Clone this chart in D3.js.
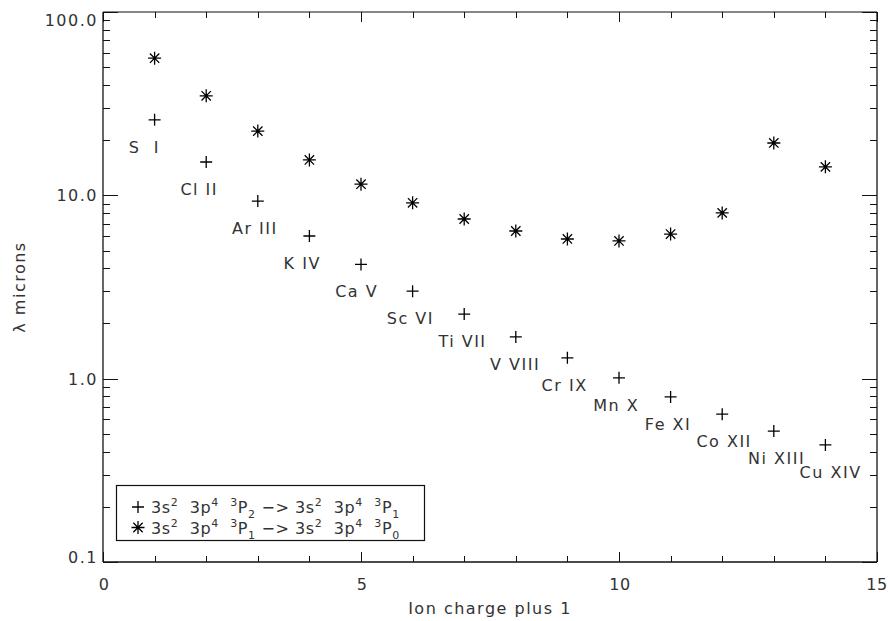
<!DOCTYPE html>
<meta charset="UTF-8">
<style>
  body { margin: 0; background: #fff; }
  text { font-family: "DejaVu Sans", "Liberation Sans", sans-serif; fill: #333; letter-spacing: 1.5px; }
  .lbl { white-space: pre; }
  .leg { white-space: pre; letter-spacing: 0.6px; }
</style>
<body>
<script src="https://cdn.jsdelivr.net/npm/d3@7"></script>
<script>

// ion charge + 1
var charge = [1, 2, 3, 4, 5, 6, 7, 8, 9, 10, 11, 12, 13, 14];
// ion names
var ions = ["S  I", "Cl II", "Ar III", "K IV", "Ca V", "Sc VI", "Ti VII",
            "V VIII", "Cr IX", "Mn X", "Fe XI", "Co XII", "Ni XIII", "Cu XIV"];
// 3P2 -> 3P1 wavelengths (microns)
var lam21 = [25.8, 15.2, 9.3, 6.0, 4.2, 3.0, 2.25, 1.69, 1.30, 1.01, 0.795, 0.64, 0.518, 0.435];
// 3P1 -> 3P0 wavelengths (microns)
var lam10 = [56.0, 34.9, 22.4, 15.6, 11.5, 9.1, 7.43, 6.39, 5.78, 5.64, 6.15, 8.02, 19.3, 14.3];

var yTicks = [100, 10, 1, 0.1];
var xTicks = [0, 5, 10, 15];

var W = 888, H = 621;
var margin = {top: 12, right: 11, bottom: 59, left: 103};
var fs = 16;

var svg = d3.select("body").append("svg")
    .attr("width", W)
    .attr("height", H);

var x = d3.scaleLinear().domain([0, 15]).range([margin.left, W - margin.right]);
var y = d3.scaleLog().domain([0.1, 100]).range([H - margin.bottom, margin.top]);

var x0 = x.range()[0], x1 = x.range()[1],
    y0 = y.range()[0], y1 = y.range()[1];

// minor ticks on y
var yMinor = [];
[0.1, 1, 10].forEach(function(d) {
  for (var k = 2; k <= 9; k++) yMinor.push(d * k);
});
var xMinor = d3.range(0, 16);

var g = svg.append("g");

// frame
g.append("line").attr("x1", x0).attr("x2", x0).attr("y1", y0).attr("y2", y1)
  .attr("stroke", "#666").attr("stroke-width", 2);
g.append("line").attr("x1", x1).attr("x2", x1).attr("y1", y0).attr("y2", y1)
  .attr("stroke", "#666").attr("stroke-width", 2);
g.append("line").attr("x1", x0).attr("x2", x1).attr("y1", y0).attr("y2", y0)
  .attr("stroke", "#111").attr("stroke-width", 1.5);
g.append("line").attr("x1", x0).attr("x2", x1).attr("y1", y1).attr("y2", y1)
  .attr("stroke", "#111").attr("stroke-width", 1.2);

// y ticks, both sides
function yTick(v, len) {
  var yy = Math.round(y(v)) + 0.5;
  g.append("line").attr("x1", x0).attr("x2", x0 + len).attr("y1", yy).attr("y2", yy)
    .attr("stroke", "#111").attr("stroke-width", 1);
  g.append("line").attr("x1", x1).attr("x2", x1 - len).attr("y1", yy).attr("y2", yy)
    .attr("stroke", "#111").attr("stroke-width", 1);
}
yMinor.forEach(function(v) { yTick(v, 7); });
yTicks.forEach(function(v) { yTick(v, 15); });

// x ticks, both sides
function xTick(v, len) {
  var xx = Math.round(x(v)) + 0.5;
  g.append("line").attr("x1", xx).attr("x2", xx).attr("y1", y0).attr("y2", y0 - len)
    .attr("stroke", "#111").attr("stroke-width", 1);
  g.append("line").attr("x1", xx).attr("x2", xx).attr("y1", y1).attr("y2", y1 + len)
    .attr("stroke", "#111").attr("stroke-width", 1);
}
xMinor.forEach(function(v) { if (xTicks.indexOf(v) < 0) xTick(v, 6); });
xTicks.forEach(function(v) { xTick(v, 10); });

// tick labels
g.selectAll(".ylab").data(yTicks).enter().append("text")
  .attr("class", "ylab")
  .attr("x", x0 - 5)
  .attr("y", function(d) {
    var yy = y(d) + 6;
    return Math.min(Math.max(yy, y1 + 14), y0 + 1);
  })
  .attr("text-anchor", "end")
  .attr("font-size", fs)
  .text(function(d) { return d3.format(".1f")(d); });

g.selectAll(".xlab").data(xTicks).enter().append("text")
  .attr("class", "xlab")
  .attr("x", function(d) { return Math.min(x(d) + 1, W - 11); })
  .attr("y", y0 + 28)
  .attr("text-anchor", "middle")
  .attr("font-size", fs)
  .style("letter-spacing", "0.5px")
  .text(function(d) { return d; });

// axis titles
svg.append("text")
  .attr("x", (x0 + x1) / 2)
  .attr("y", 614)
  .attr("text-anchor", "middle")
  .attr("font-size", fs)
  .text("Ion charge plus 1");

svg.append("text")
  .attr("transform", "translate(25," + ((y0 + y1) / 2) + ") rotate(-90)")
  .attr("text-anchor", "middle")
  .attr("font-size", fs)
  .text("λ microns");

// markers
function plus(sel, s) {
  sel.append("path")
    .attr("d", "M" + (-s) + ",0H" + s + "M0," + (-s) + "V" + s)
    .attr("stroke", "#000").attr("stroke-width", 1.3).attr("fill", "none");
}
function star(sel, s) {
  var d = s * 0.72;
  sel.append("path")
    .attr("d", "M" + (-s) + ",0H" + s + "M0," + (-s) + "V" + s +
               "M" + (-d) + "," + (-d) + "L" + d + "," + d +
               "M" + (-d) + "," + d + "L" + d + "," + (-d))
    .attr("stroke", "#000").attr("stroke-width", 1.3).attr("fill", "none");
}

var pts = charge.map(function(c, i) {
  return {c: c, name: ions[i], a: lam21[i], b: lam10[i]};
});

var p1 = g.selectAll(".p1").data(pts).enter().append("g")
  .attr("class", "p1")
  .attr("transform", function(d) { return "translate(" + x(d.c) + "," + y(d.a) + ")"; });
plus(p1, 6);

var p2 = g.selectAll(".p2").data(pts).enter().append("g")
  .attr("class", "p2")
  .attr("transform", function(d) { return "translate(" + x(d.c) + "," + y(d.b) + ")"; });
star(p2, 6.5);

// ion labels, left aligned half a unit to the left
g.selectAll(".lbl").data(pts).enter().append("text")
  .attr("class", "lbl")
  .attr("x", function(d) { return x(d.c - 0.5); })
  .attr("y", function(d) { return y(d.a) + 33; })
  .attr("font-size", fs)
  .text(function(d) { return d.name; });

// legend
var lg = svg.append("g");
lg.append("rect")
  .attr("x", 116.5).attr("y", 485.5).attr("width", 308).attr("height", 55)
  .attr("fill", "#fff").attr("stroke", "#111").attr("stroke-width", 1.2);

var legendRows = [
  {mark: "plus", parts: [["3s",0],["2",1],["  3p",0],["4",1],["  ",0],["3",1],["P",0],["2",-1],[" −> 3s",0],["2",1],["  3p",0],["4",1],["  ",0],["3",1],["P",0],["1",-1]]},
  {mark: "star", parts: [["3s",0],["2",1],["  3p",0],["4",1],["  ",0],["3",1],["P",0],["1",-1],[" −> 3s",0],["2",1],["  3p",0],["4",1],["  ",0],["3",1],["P",0],["0",-1]]}
];

legendRows.forEach(function(r, i) {
  var by = 513 + i * 20.5;
  var m = lg.append("g").attr("transform", "translate(138," + (by - 6) + ")");
  if (r.mark === "plus") plus(m, 6); else star(m, 6.5);
  var t = lg.append("text").attr("class", "leg")
    .attr("x", 151).attr("y", by).attr("font-size", fs);
  var prev = 0;
  r.parts.forEach(function(p) {
    var shift = p[1] === 1 ? -7 : (p[1] === -1 ? 5 : 0);
    t.append("tspan")
      .attr("dy", shift - prev)
      .attr("font-size", p[1] === 0 ? fs : 11)
      .text(p[0]);
    prev = shift;
  });
});

</script>
</body>
